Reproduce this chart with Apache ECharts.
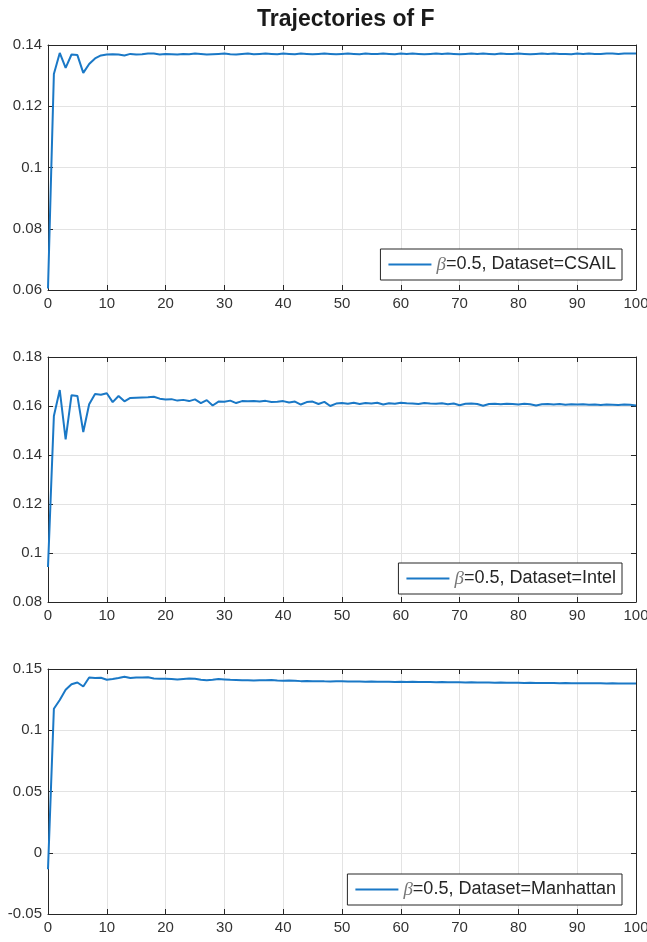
<!DOCTYPE html>
<html>
<head>
<meta charset="utf-8">
<title>Trajectories of F</title>
<script src="https://cdn.jsdelivr.net/npm/echarts@6/dist/echarts.min.js"></script>
<style>
  html, body { margin: 0; padding: 0; background: #fff; }
  #chart { width: 647px; height: 942px; }
</style>
</head>
<body>
<div id="chart"></div>
<script>
// iterations 0..100, one value per iteration
const datasets = ['CSAIL', 'Intel', 'Manhattan']

const csail = [
  0.0605, 0.1305, 0.1374, 0.1325, 0.1369, 0.1367, 0.1309, 0.1338, 0.1356, 0.1366,
  0.1369, 0.1370, 0.1369, 0.1366, 0.1371, 0.1369, 0.1370, 0.1372, 0.1372, 0.1369,
  0.1371, 0.1370, 0.1369, 0.1371, 0.1370, 0.1372, 0.1371, 0.1369, 0.1370, 0.1371,
  0.1372, 0.1370, 0.1369, 0.1371, 0.1372, 0.1370, 0.1371, 0.1372, 0.1371, 0.1370,
  0.1372, 0.1371, 0.1370, 0.1372, 0.1371, 0.1370, 0.1371, 0.1372, 0.1371, 0.1370,
  0.1371, 0.1372, 0.1371, 0.1370, 0.1372, 0.1371, 0.1371, 0.1372, 0.1371, 0.1370,
  0.1372, 0.1371, 0.1372, 0.1371, 0.1370, 0.1371, 0.1372, 0.1371, 0.1372, 0.1371,
  0.1370, 0.1371, 0.1372, 0.1371, 0.1372, 0.1371, 0.1370, 0.1372, 0.1371, 0.1371,
  0.1372, 0.1371, 0.1370, 0.1371, 0.1372, 0.1371, 0.1372, 0.1371, 0.1371, 0.1370,
  0.1372, 0.1371, 0.1372, 0.1371, 0.1371, 0.1372, 0.1372, 0.1371, 0.1372, 0.1372,
  0.1372
]

const intel = [
  0.0943, 0.1559, 0.1665, 0.1464, 0.1644, 0.1641, 0.1494, 0.1607, 0.1649, 0.1646,
  0.1652, 0.1616, 0.1641, 0.1619, 0.1633, 0.1634, 0.1635, 0.1636, 0.1638, 0.1630,
  0.1627, 0.1628, 0.1622, 0.1625, 0.1620, 0.1627, 0.1612, 0.1624, 0.1602, 0.1618,
  0.1617, 0.1622, 0.1612, 0.1620, 0.1619, 0.1620, 0.1618, 0.1621, 0.1616, 0.1617,
  0.1620, 0.1614, 0.1618, 0.1606, 0.1616, 0.1618, 0.1608, 0.1617, 0.1600, 0.1610,
  0.1612, 0.1609, 0.1613, 0.1608, 0.1612, 0.1610, 0.1613, 0.1606, 0.1611, 0.1609,
  0.1613, 0.1611, 0.1610, 0.1608, 0.1612, 0.1610, 0.1609, 0.1611, 0.1607, 0.1610,
  0.1603, 0.1609, 0.1610, 0.1608, 0.1601, 0.1608, 0.1609, 0.1607, 0.1609, 0.1608,
  0.1606, 0.1609, 0.1607, 0.1602, 0.1607, 0.1608, 0.1606, 0.1608, 0.1605, 0.1607,
  0.1606, 0.1607, 0.1605, 0.1606, 0.1604, 0.1606, 0.1605, 0.1604, 0.1606, 0.1605,
  0.1602
]

const manhattan = [
  -0.0134, 0.1176, 0.1247, 0.1330, 0.1376, 0.1390, 0.1357, 0.1431, 0.1426, 0.1428,
  0.1412, 0.1418, 0.1426, 0.1437, 0.1426, 0.1431, 0.1430, 0.1432, 0.1422, 0.1420,
  0.1420, 0.1418, 0.1415, 0.1419, 0.1423, 0.1420, 0.1413, 0.1408, 0.1412, 0.1418,
  0.1415, 0.1412, 0.1410, 0.1408, 0.1409, 0.1407, 0.1408, 0.1409, 0.1410, 0.1406,
  0.1404, 0.1407, 0.1405, 0.1401, 0.1402, 0.1400, 0.1401, 0.1399, 0.1398, 0.1400,
  0.1399, 0.1397, 0.1398, 0.1397, 0.1396, 0.1398, 0.1396, 0.1395, 0.1396, 0.1394,
  0.1395, 0.1394, 0.1395, 0.1393, 0.1394, 0.1393, 0.1392, 0.1393, 0.1391, 0.1392,
  0.1391, 0.1390, 0.1391, 0.1390, 0.1389, 0.1390, 0.1388, 0.1389, 0.1388, 0.1387,
  0.1388, 0.1386, 0.1387, 0.1386, 0.1385, 0.1386, 0.1385, 0.1384, 0.1385, 0.1384,
  0.1384, 0.1383, 0.1384, 0.1383, 0.1383, 0.1382, 0.1383, 0.1382, 0.1382, 0.1382,
  0.1382
]

const yMins = [0.06, 0.08, -0.05]
const yMaxs = [0.14, 0.18, 0.15]
const yIntervals = [0.02, 0.02, 0.05]

const series_values = [csail, intel, manhattan]

const chart = echarts.init(document.getElementById('chart'))

const gridTops = [45, 357, 669]
const legendTops = [249, 563, 874]
const axisColor = '#262626'
const labelColor = '#333'
const lineColor = '#1a78c6'
const font = 'Liberation Sans, Arial, sans-serif'

const grids = []
const xAxes = []
const yAxes = []
const series = []
const legends = []

datasets.forEach((name, i) => {
  grids.push({ left: 48, right: 11, top: gridTops[i], height: 245, outerBoundsMode: 'none', containLabel: false })

  const xBase = {
    gridIndex: i,
    type: 'value',
    min: 0,
    max: 100,
    interval: 10,
    axisLine: { show: true, onZero: false, lineStyle: { color: axisColor, width: 1 } },
    axisTick: { show: true, inside: true, length: 5, lineStyle: { color: axisColor } }
  }
  xAxes.push(Object.assign({}, xBase, {
    position: 'bottom',
    axisLabel: { color: labelColor, fontSize: 15, fontFamily: font, margin: 6 },
    splitLine: { show: true, lineStyle: { color: '#e3e3e3', width: 1 } }
  }))
  xAxes.push(Object.assign({}, xBase, {
    position: 'top',
    axisLabel: { show: false },
    splitLine: { show: false }
  }))

  const yBase = {
    gridIndex: i,
    type: 'value',
    min: yMins[i],
    max: yMaxs[i],
    interval: yIntervals[i],
    axisLine: { show: true, onZero: false, lineStyle: { color: axisColor, width: 1 } },
    axisTick: { show: true, inside: true, length: 5, lineStyle: { color: axisColor } }
  }
  yAxes.push(Object.assign({}, yBase, {
    position: 'left',
    axisLabel: { color: labelColor, fontSize: 15, fontFamily: font, margin: 6 },
    splitLine: { show: true, lineStyle: { color: '#e3e3e3', width: 1 } }
  }))
  yAxes.push(Object.assign({}, yBase, {
    position: 'right',
    axisLabel: { show: false },
    splitLine: { show: false }
  }))

  series.push({
    name: name,
    type: 'line',
    xAxisIndex: i * 2,
    yAxisIndex: i * 2,
    data: series_values[i].map((v, k) => [k, v]),
    symbol: 'none',
    lineStyle: { color: lineColor, width: 2 },
    itemStyle: { color: lineColor },
    animation: false
  })

  legends.push({
    data: [name],
    top: legendTops[i],
    right: 25,
    orient: 'horizontal',
    icon: 'rect',
    itemWidth: 43,
    itemHeight: 2,
    itemGap: 4,
    padding: [6, 6, 6, 8],
    backgroundColor: '#fff',
    borderColor: axisColor,
    borderWidth: 1,
    borderRadius: 0,
    selectedMode: false,
    formatter: n => '{b|β}=0.5, Dataset=' + n,
    textStyle: {
      color: axisColor,
      fontSize: 18,
      fontFamily: font,
      rich: {
        b: { fontStyle: 'italic', color: '#777', fontSize: 19, fontFamily: 'Liberation Serif, serif' }
      }
    }
  })
})

const option = {
  backgroundColor: '#fff',
  animation: false,
  title: {
    text: 'Trajectories of F',
    left: 252,
    top: 3,
    textStyle: { fontSize: 23, fontWeight: 'bold', color: '#1a1a1a', fontFamily: font }
  },
  grid: grids,
  xAxis: xAxes,
  yAxis: yAxes,
  legend: legends,
  series: series
}

chart.setOption(option)
</script>
</body>
</html>
